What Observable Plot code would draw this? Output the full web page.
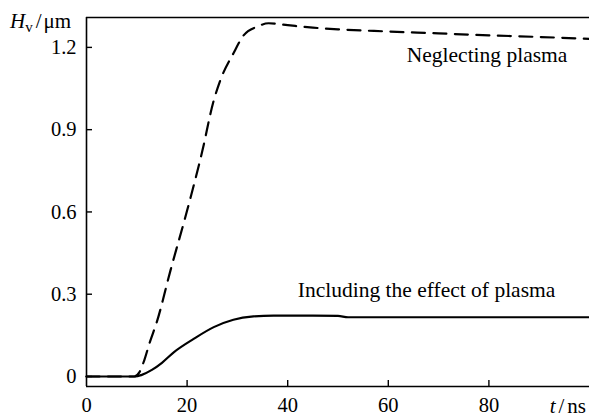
<!DOCTYPE html>
<html>
<head>
<meta charset="utf-8">
<script src="https://cdn.jsdelivr.net/npm/d3@7"></script>
<script src="https://cdn.jsdelivr.net/npm/@observablehq/plot@0.6"></script>
<style>
  html, body { margin: 0; padding: 0; background: #fff; }
  #chart svg { font-family: "Liberation Serif", "Times New Roman", serif; font-size: 20px; background: #fff; color: #000; }
</style>
</head>
<body>
<div id="chart"></div>
<script>
// Data
const neglectT = [0, 9.5, 10.5, 11.5, 12.5, 14, 16.7, 20, 23, 25.2, 26.6, 29.2, 31.2, 34, 36.2, 40, 45, 50, 60, 70, 80, 90, 100];
const neglectH = [0, 0, 0.015, 0.06, 0.12, 0.2, 0.387, 0.605, 0.82, 1.0, 1.08, 1.178, 1.243, 1.276, 1.288, 1.281, 1.272, 1.266, 1.258, 1.251, 1.244, 1.238, 1.231];
const plasmaT = [0, 9.7, 11, 13, 15, 17.4, 21.3, 25.3, 29.2, 33.2, 37.2, 45, 50, 52, 60, 80, 100];
const plasmaH = [0, 0, 0.006, 0.024, 0.05, 0.089, 0.137, 0.18, 0.207, 0.219, 0.222, 0.222, 0.221, 0.216, 0.216, 0.216, 0.216];
const xTicks = [0, 20, 40, 60, 80];
const yTicks = [0, 0.3, 0.6, 0.9, 1.2];
const xDomain = [0, 100];
const yDomain = [-0.0365, 1.309];
const labels = [
  {t: 95.6, h: 1.172, text: "Neglecting plasma"},
  {t: 93.2, h: 0.314, text: "Including the effect of plasma"}
];

const neglect = neglectT.map((t, i) => ({t, h: neglectH[i]}));
const plasma = plasmaT.map((t, i) => ({t, h: plasmaH[i]}));

const font = "Liberation Serif";

const chart = Plot.plot({
  width: 589,
  height: 419,
  marginLeft: 86,
  marginRight: 0,
  marginTop: 17,
  marginBottom: 33,
  x: {domain: xDomain},
  y: {domain: yDomain},
  marks: [
    Plot.ruleX([xDomain[0]], {stroke: "#000", strokeWidth: 1.6}),
    Plot.ruleY([yDomain[0]], {stroke: "#000", strokeWidth: 1.6}),
    Plot.ruleY([yDomain[1]], {stroke: "#000", strokeWidth: 1.6}),
    Plot.axisX({ticks: xTicks.filter(d => d > 0), tickSize: -6, tickFormat: () => "", label: null, strokeWidth: 1.4}),
    Plot.axisX({ticks: xTicks, tickSize: 0, tickPadding: 11, label: null, fontSize: 20.5}),
    Plot.axisY({ticks: yTicks, tickSize: -6, tickFormat: () => "", label: null, strokeWidth: 1.4}),
    Plot.axisY({ticks: yTicks, tickSize: 0, tickPadding: 10, label: null, fontSize: 20.5, tickFormat: d => d === 0 ? "0" : d3.format(".1f")(d)}),
    Plot.line(neglect, {x: "t", y: "h", stroke: "#000", strokeWidth: 2.2, strokeDasharray: "13,8.5", curve: "monotone-x"}),
    Plot.line(plasma, {x: "t", y: "h", stroke: "#000", strokeWidth: 2.2, curve: "monotone-x"}),
    Plot.text(labels, {x: "t", y: "h", text: "text", textAnchor: "end", fontSize: 21.5, fill: "#000"})
  ]
});

document.getElementById("chart").appendChild(chart);

// Axis titles with italic symbols and subscript
const svg = d3.select(chart);
const yTitle = svg.append("text")
  .attr("x", 10).attr("y", 28)
  .attr("text-anchor", "start")
  .style("font-family", font).style("font-size", "21px").attr("fill", "#000");
yTitle.append("tspan").style("font-style", "italic").text("H");
yTitle.append("tspan").style("font-size", "15px").attr("dy", 4).text("v");
yTitle.append("tspan").attr("dy", -4).attr("dx", 3).text("/");
yTitle.append("tspan").attr("dx", 2).text("\u03bcm");

const xTitle = svg.append("text")
  .attr("x", 586).attr("y", 413).attr("text-anchor", "end")
  .style("font-family", font).style("font-size", "21px").attr("fill", "#000");
xTitle.append("tspan").style("font-style", "italic").text("t");
xTitle.append("tspan").attr("dx", 3).text("/");
xTitle.append("tspan").attr("dx", 3).text("ns");
</script>
</body>
</html>
